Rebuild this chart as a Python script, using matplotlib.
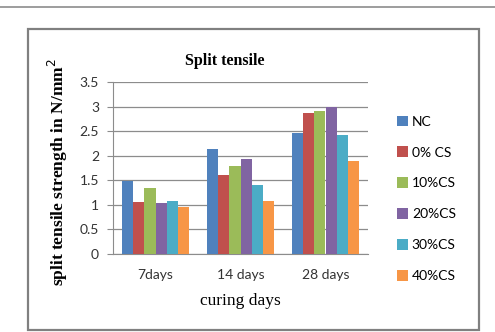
import numpy as np
import matplotlib
matplotlib.use("Agg")
import matplotlib.pyplot as plt
from matplotlib.patches import Rectangle
from matplotlib.lines import Line2D

# data
days = ["7days", "14 days", "28 days"]
series = ["NC", "0% CS", "10%CS", "20%CS", "30%CS", "40%CS"]
nc = [1.48, 2.14, 2.46]
cs0 = [1.06, 1.61, 2.87]
cs10 = [1.35, 1.79, 2.91]
cs20 = [1.04, 1.94, 3.00]
cs30 = [1.08, 1.41, 2.42]
cs40 = [0.96, 1.08, 1.90]
colors = ["#4F81BD", "#C0504D", "#9BBB59", "#8064A2", "#4BACC6", "#F79646"]

values = [nc, cs0, cs10, cs20, cs30, cs40]

fig = plt.figure(figsize=(4.95, 3.32), dpi=100)

# top rule and chart frame
fig.add_artist(Line2D([0, 1], [1 - 7 / 332, 1 - 7 / 332], transform=fig.transFigure,
                      color="#8c8c8c", lw=1.2))
fig.add_artist(Rectangle((28 / 495, 2 / 332), 451 / 495, 301 / 332, transform=fig.transFigure,
                         fill=False, edgecolor="#808080", lw=1.6))

ax = fig.add_axes([113 / 495, 78 / 332, 255 / 495, 172 / 332])

x = np.arange(len(days))
w = 0.79 / len(series)
handles = []
for i, (name, vals, c) in enumerate(zip(series, values, colors)):
    b = ax.bar(x + (i - 2.5) * w, vals, width=w, color=c, label=name, zorder=3)
    handles.append(b)

ax.set_xlim(-0.5, 2.5)
ax.set_ylim(0, 3.5)
ax.set_yticks(np.arange(0, 3.6, 0.5))
ax.set_yticklabels(["0", "0.5", "1", "1.5", "2", "2.5", "3", "3.5"])
ax.set_xticks(x)
ax.set_xticklabels(days)
ax.yaxis.grid(True, color="#8c8c8c", lw=0.9, zorder=0)
for s in ["top", "right"]:
    ax.spines[s].set_visible(False)
ax.spines["left"].set_color("#8c8c8c")
ax.spines["bottom"].set_color("#8c8c8c")
ax.tick_params(axis="y", length=4, color="#8c8c8c", labelsize=10, labelcolor="#333333", pad=6)
ax.tick_params(axis="x", length=0, labelsize=10, labelcolor="#333333", pad=11)
for t in ax.get_xticklabels() + ax.get_yticklabels():
    t.set_family("Lato")

fig.text(225 / 495, 1 - 61 / 332, "Split tensile", ha="center", va="center",
         family="Liberation Serif", weight="bold", fontsize=11.5)
fig.text(58 / 495, 1 - 172 / 332, "split tensile strength in N/mm$^2$", ha="center", va="center",
         rotation=90, family="Liberation Serif", weight="bold", fontsize=12.5)
fig.text(240 / 495, 1 - 301 / 332, "curing days", ha="center", va="center",
         family="Liberation Serif", fontsize=12.5)

fig.legend(handles, series, loc="upper left", bbox_to_anchor=(391 / 495, 1 - 110 / 332),
           frameon=False, prop={"family": "Lato", "size": 10}, handlelength=0.8,
           handleheight=0.8, handletextpad=0.3, labelspacing=1.35, borderaxespad=0)

fig.savefig("out.png", dpi=100)
